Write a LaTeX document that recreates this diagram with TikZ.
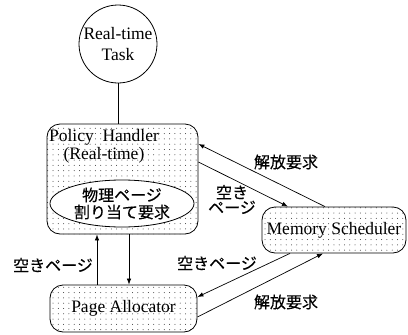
\documentclass[tikz,border=0pt]{standalone}
\usepackage{fontspec}
\setmainfont{Liberation Serif}
\newfontfamily\jp[FakeBold=0.4]{Noto Sans CJK JP}
\usetikzlibrary{patterns,arrows.meta,shapes.geometric}
\pgfdeclarepatternformonly{sparsedots}{\pgfqpoint{-1pt}{-1pt}}{\pgfqpoint{1pt}{1pt}}{\pgfqpoint{5.3pt}{5.3pt}}{\pgfpathcircle{\pgfqpoint{0pt}{0pt}}{0.5pt}\pgfusepath{fill}}
\begin{document}
\begin{tikzpicture}[x=1pt,y=-1pt,
  box/.style={draw, line width=0.8pt, rounded corners=13pt, pattern=sparsedots, pattern color=black!80, inner sep=0pt},
  lat/.style={font=\fontsize{17.5}{21}\selectfont},
  jlab/.style={font=\fontsize{16}{15}\selectfont\jp, inner sep=0pt, align=center},
  arr/.style={-{Latex[length=6pt,width=4.5pt]}, line width=0.7pt}]
\useasboundingbox (0,0) rectangle (408,335);

\node[draw, line width=0.8pt, circle, minimum size=78pt, inner sep=0pt, lat, align=center] (task) at (118,44) {Real-time\\Task};

\node[box, minimum width=151pt, minimum height=110pt] (ph) at (122.5,179) {};
\node[font=\fontsize{17.5}{18}\selectfont, align=center, inner sep=0pt] (phl) at (104,146) {Policy\ \ Handler\\(Real-time)};
\node[draw, line width=0.8pt, ellipse, fill=white, minimum width=144pt, minimum height=47pt, inner sep=0pt, font=\fontsize{16}{17}\selectfont\jp, align=center] (req) at (122,203.5) {物理ページ\\割り当て要求};

\node[box, minimum width=147pt, minimum height=47pt, lat] (pa) at (123.5,308.5) {Page Allocator};
\node[box, minimum width=144pt, minimum height=46pt, lat] (ms) at (334,230) {Memory Scheduler};

\draw[line width=0.7pt] (task.south) -- (task.south |- ph.north);

\coordinate (ux) at (97,0);
\coordinate (dx) at (129,0);
\draw[arr] (pa.north -| ux) -- (ph.south -| ux);
\draw[arr] (ph.south -| dx) -- (pa.north -| dx);

\coordinate (a1) at (325,144);
\coordinate (b1) at (288,162);
\coordinate (c1) at (290,297);
\coordinate (d1) at (323,317);
\draw[arr] (ms.north -| a1) -- (ph.east |- a1);
\draw[arr] (ph.east |- b1) -- (ms.north -| b1);
\draw[arr] (ms.south -| c1) -- (pa.east |- c1);
\draw[arr] (pa.east |- d1) -- (ms.south -| d1);

\node[jlab] (l1) at (286,162) {解放要求};
\node[jlab] (l2) at (232,199.5) {空き\\ページ};
\node[jlab] (l3) at (217,263) {空きページ};
\node[jlab] (l4) at (286,302) {解放要求};
\node[jlab] (l5) at (53,265) {空きページ};
\end{tikzpicture}
\end{document}
